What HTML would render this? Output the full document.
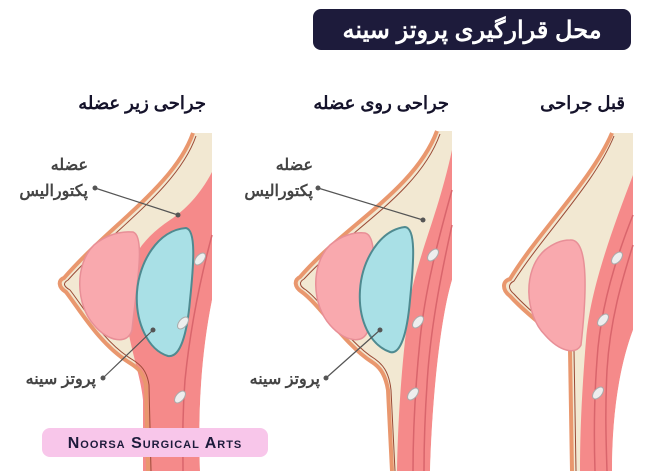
<!DOCTYPE html>
<html><head><meta charset="utf-8"><style>
html,body{margin:0;padding:0;background:#fff;}
svg{display:block}
text{font-family:"Liberation Sans","Noto Sans CJK SC",sans-serif;}
</style></head><body>
<svg width="650" height="471" viewBox="0 0 650 471" xmlns="http://www.w3.org/2000/svg">
<rect width="650" height="471" fill="#fff"/>
<!-- Title -->
<rect x="313" y="9" width="318" height="41" rx="8" fill="#1d1b3b"/>
<text x="472" y="38" text-anchor="middle" font-size="24" font-weight="bold" fill="#fff">محل قرارگیری پروتز سینه</text>
<!-- headings -->
<text x="625" y="109" text-anchor="end" font-size="18" font-weight="bold" fill="#15132b">قبل جراحی</text>
<text x="449" y="109" text-anchor="end" font-size="18" font-weight="bold" fill="#15132b">جراحی روی عضله</text>
<text x="206" y="109" text-anchor="end" font-size="18" font-weight="bold" fill="#15132b">جراحی زیر عضله</text>

<!-- FIG 3 -->
<g>
<path d="M612,133 L633,133 L633,471 L572,471 L570,350 C560,338 530,318 510,296 C502,290 502,281 510,279 C540,230 592,180 612,133 Z" fill="#f2e8d2"/>
<path d="M633,175 C612,230 590,290 586,340 C582,390 580,430 580,471 L612,471 C612,420 618,370 633,330 Z" fill="#f58a8a"/>
<path d="M633,330 C618,370 612,420 612,471 L634,471 L634,330 Z" fill="#fff"/>
<path d="M633,215 C615,260 600,310 597,360 C594,400 594,440 595,471" fill="none" stroke="#d9656c" stroke-width="1.5"/>
<path d="M633,245 C622,280 610,320 607,370 C605,410 606,440 607,471" fill="none" stroke="#d9656c" stroke-width="1.5"/>
<path d="M612,133 C592,180 540,230 510,279 C502,281 502,290 510,296 C530,318 560,338 570,350 L572,471" fill="none" stroke="#e9976e" stroke-width="4"/>
<path d="M614,136 C595,183 544,234 514,281 C508,284 508,289 514,294 C534,316 564,337 574,350 L576,471" fill="none" stroke="#9a4a35" stroke-width="1"/>
<path d="M570,240 C590,238 586,300 581,345 C576,355 560,352 545,335 C525,315 522,270 545,250 C555,242 563,240 570,240 Z" fill="#f9a9ae" stroke="#e88f97" stroke-width="1.5"/>
<ellipse cx="617" cy="258" rx="7" ry="4" transform="rotate(-50 617 258)" fill="#eee" stroke="#aaa"/>
<ellipse cx="603" cy="320" rx="7" ry="4" transform="rotate(-50 603 320)" fill="#eee" stroke="#aaa"/>
<ellipse cx="598" cy="393" rx="7" ry="4" transform="rotate(-50 598 393)" fill="#eee" stroke="#aaa"/>
</g>

<!-- FIG 2 -->
<g>
<path d="M437,131 L452,131 L452,471 L392,471 L388,390 C385,372 378,366 372,362 C345,345 320,305 302,292 C294,287 294,280 300,277 C345,225 415,190 437,131 Z" fill="#f2e8d2"/>
<path d="M452,150 C438,215 418,255 410,300 C403,350 398,410 397,471 L430,471 C432,400 440,320 452,280 Z" fill="#f58a8a"/>
<path d="M452,280 C440,320 432,400 430,471 L453,471 L453,280 Z" fill="#fff"/>
<path d="M452,190 C438,240 425,290 420,340 C415,390 413,430 413,471" fill="none" stroke="#d9656c" stroke-width="1.5"/>
<path d="M452,225 C442,270 432,320 428,370 C425,410 424,440 424,471" fill="none" stroke="#d9656c" stroke-width="1.5"/>
<path d="M437,131 C415,190 345,225 300,277 C294,280 294,287 302,292 C320,305 345,345 372,362 C378,366 385,372 388,390 L392,471" fill="none" stroke="#e9976e" stroke-width="4"/>
<path d="M440,134 C419,193 350,229 304,279 C299,282 299,286 306,290 C324,304 349,343 375,359 C382,364 389,371 391,390 L395,471" fill="none" stroke="#9a4a35" stroke-width="1"/>
<path d="M365,233 C380,236 372,290 368,330 C364,345 345,342 330,325 C312,305 310,265 330,245 C342,235 355,232 365,233 Z" fill="#f9a9ae" stroke="#e88f97" stroke-width="1.5"/>
<path d="M405,227 C416,228 414,260 410,300 C407,335 400,355 390,352 C370,345 358,320 360,290 C362,260 380,230 405,227 Z" fill="#a9e0e6" stroke="#4f8a90" stroke-width="2"/>
<ellipse cx="433" cy="255" rx="7" ry="4" transform="rotate(-50 433 255)" fill="#eee" stroke="#aaa"/>
<ellipse cx="418" cy="322" rx="7" ry="4" transform="rotate(-50 418 322)" fill="#eee" stroke="#aaa"/>
<ellipse cx="413" cy="394" rx="7" ry="4" transform="rotate(-50 413 394)" fill="#eee" stroke="#aaa"/>
<line x1="318" y1="188" x2="423" y2="220" stroke="#555" stroke-width="1.2"/>
<circle cx="318" cy="188" r="2.5" fill="#555"/><circle cx="423" cy="220" r="2.5" fill="#555"/>
<line x1="326" y1="378" x2="380" y2="330" stroke="#555" stroke-width="1.2"/>
<circle cx="326" cy="378" r="2.5" fill="#555"/><circle cx="380" cy="330" r="2.5" fill="#555"/>
<text x="313" y="170" text-anchor="end" font-size="16" font-weight="bold" fill="#444">عضله</text>
<text x="313" y="196" text-anchor="end" font-size="16" font-weight="bold" fill="#444">پکتورالیس</text>
<text x="320" y="384" text-anchor="end" font-size="16" font-weight="bold" fill="#444">پروتز سینه</text>
</g>

<!-- FIG 1 -->
<g>
<path d="M193,133 L212,133 L212,471 L148,471 L146,385 C143,372 138,368 130,363 C100,345 80,310 66,292 C58,287 58,280 64,278 C110,225 175,185 193,133 Z" fill="#f2e8d2"/>
<path d="M212,172 C200,195 185,210 170,220 C140,240 124,265 125,300 C126,340 140,370 143,400 L143,471 L200,471 C198,420 200,360 212,300 Z" fill="#f58a8a"/>
<path d="M212,300 C200,360 198,420 200,471 L213,471 L213,300 Z" fill="#fff"/>
<path d="M212,235 C200,280 190,330 185,380 C182,420 183,445 183,471" fill="none" stroke="#d9656c" stroke-width="1.5"/>
<path d="M193,133 C175,185 110,225 64,278 C58,280 58,287 66,292 C80,310 100,345 130,363 C138,368 143,372 146,385 L148,471" fill="none" stroke="#e9976e" stroke-width="4"/>
<path d="M196,136 C178,188 114,229 68,280 C63,283 63,286 70,290 C84,308 104,343 133,360 C141,365 147,371 149,385 L151,471" fill="none" stroke="#9a4a35" stroke-width="1"/>
<path d="M133,232 C146,236 136,290 132,330 C128,345 108,342 94,325 C76,305 74,265 94,245 C106,235 120,231 133,232 Z" fill="#f9a9ae" stroke="#e88f97" stroke-width="1.5"/>
<path d="M186,228 C196,230 194,262 190,300 C187,335 180,358 168,356 C148,350 135,322 137,292 C139,262 158,230 186,228 Z" fill="#a9e0e6" stroke="#4f8a90" stroke-width="2"/>
<ellipse cx="200" cy="259" rx="7" ry="4" transform="rotate(-50 200 259)" fill="#eee" stroke="#aaa"/>
<ellipse cx="183" cy="323" rx="7" ry="4" transform="rotate(-50 183 323)" fill="#eee" stroke="#aaa"/>
<ellipse cx="180" cy="397" rx="7" ry="4" transform="rotate(-50 180 397)" fill="#eee" stroke="#aaa"/>
<line x1="95" y1="188" x2="178" y2="215" stroke="#555" stroke-width="1.2"/>
<circle cx="95" cy="188" r="2.5" fill="#555"/><circle cx="178" cy="215" r="2.5" fill="#555"/>
<line x1="103" y1="378" x2="153" y2="330" stroke="#555" stroke-width="1.2"/>
<circle cx="103" cy="378" r="2.5" fill="#555"/><circle cx="153" cy="330" r="2.5" fill="#555"/>
<text x="88" y="170" text-anchor="end" font-size="16" font-weight="bold" fill="#444">عضله</text>
<text x="88" y="196" text-anchor="end" font-size="16" font-weight="bold" fill="#444">پکتورالیس</text>
<text x="96" y="384" text-anchor="end" font-size="16" font-weight="bold" fill="#444">پروتز سینه</text>
</g>

<!-- badge -->
<rect x="42" y="428" width="226" height="29" rx="8" fill="#f8c6ea"/>
<text x="155" y="448" text-anchor="middle" font-size="16" font-weight="bold" fill="#1d1b3b" font-family="Liberation Serif, serif" letter-spacing="1" style="font-variant:small-caps">Noorsa Surgical Arts</text>
</svg>
</body></html>
